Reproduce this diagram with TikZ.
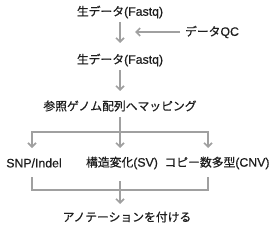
\documentclass[tikz,border=0pt]{standalone}
\usepackage{fontspec}
\setmainfont{Liberation Sans}[FakeBold=0.6]
\newfontfamily\jp{Noto Sans CJK JP}[Scale=0.96,FakeBold=0.6]
\usetikzlibrary{arrows.meta}
\definecolor{arr}{RGB}{160,160,160}
\definecolor{txt}{RGB}{30,30,30}
\tikzset{
  lbl/.style={inner sep=0pt, text=txt, font=\fontsize{12.3}{14}\selectfont},
  conn/.style={draw=arr, line width=1.8pt},
  arw/.style={conn, -{Straight Barb[length=4pt,width=8pt,line width=1.6pt]}},
}
\begin{document}
\begin{tikzpicture}[x=1pt,y=-1pt]
\useasboundingbox (0,0) rectangle (280,240);
\node[lbl] (raw1) at (120,12) {{\jp 生データ}(Fastq)};
\node[lbl] (qc) at (212,32) {{\jp データ}QC};
\node[lbl] (raw2) at (120,60) {{\jp 生データ}(Fastq)};
\node[lbl] (map) at (120,106) {\jp 参照ゲノム配列へマッピング};
\node[lbl] (snp) at (34,163) {SNP/Indel};
\node[lbl] (sv) at (122,163) {{\jp 構造変化}(SV)};
\node[lbl] (cnv) at (217,163) {{\jp コピー数多型}(CNV)};
\node[lbl] (ann) at (127,217) {\jp アノテーションを付ける};
\coordinate (a1s) at (120,22);
\coordinate (a1e) at (120,43);
\coordinate (qcend) at (135,32);
\coordinate (qcstart) at (180,32);
\coordinate (a2s) at (120,70);
\coordinate (a2e) at (120,91);
\coordinate (m0) at (120,117);
\coordinate (b1) at (120,132);
\coordinate (bl) at (32,132);
\coordinate (br) at (208,132);
\coordinate (blt) at (32,131.1);
\coordinate (brt) at (208,131.1);
\coordinate (tl) at (32,148);
\coordinate (tm) at (120,148);
\coordinate (tr) at (208,148);
\coordinate (ul) at (32,177);
\coordinate (ur) at (208,177);
\coordinate (ulb) at (32,190.9);
\coordinate (urb) at (208,190.9);
\coordinate (cl) at (32,190);
\coordinate (cr) at (208,190);
\coordinate (um) at (120,181);
\coordinate (b2) at (120,190);
\coordinate (fe) at (120,204);
\draw[arw] (a1s) -- (a1e);
\draw[arw] (qcstart) -- (qcend);
\draw[arw] (a2s) -- (a2e);
\draw[conn] (m0) -- (b1);
\draw[conn] (bl) -- (br);
\draw[arw] (blt) -- (tl);
\draw[arw] (b1) -- (tm);
\draw[arw] (brt) -- (tr);
\draw[conn] (ul) -- (ulb);
\draw[conn] (ur) -- (urb);
\draw[conn] (cl) -- (cr);
\draw[conn] (um) -- (b2);
\draw[arw] (b2) -- (fe);
\end{tikzpicture}
\end{document}
